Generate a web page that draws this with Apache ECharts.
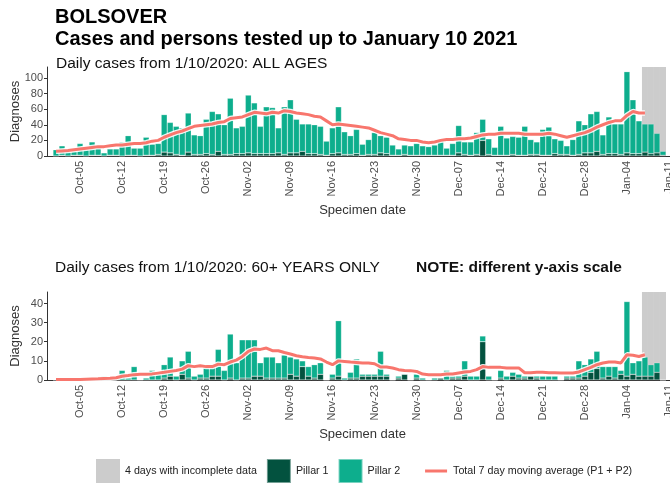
<!DOCTYPE html>
<html>
<head>
<meta charset="utf-8">
<script src="https://cdn.jsdelivr.net/npm/echarts@6/dist/echarts.min.js"></script>
<style>
  html, body { margin: 0; padding: 0; background: #ffffff; }
  #chart { width: 670px; height: 483px; }
</style>
</head>
<body>
<div id="chart"></div>
<script>
// categories: one per day, Sep-30 .. Jan-12 (data starts Oct-01 at index 1)
const MONTHS = ['Jan','Feb','Mar','Apr','May','Jun','Jul','Aug','Sep','Oct','Nov','Dec'];
const dates = [];
for (let i = 0; i < 105; i++) {
  const d = new Date(Date.UTC(2020, 8, 30 + i));
  dates.push(MONTHS[d.getUTCMonth()] + '-' + String(d.getUTCDate()).padStart(2, '0'));
}
const tickLabels = ['Oct-05', 'Oct-12', 'Oct-19', 'Oct-26', 'Nov-02', 'Nov-09', 'Nov-16',
  'Nov-23', 'Nov-30', 'Dec-07', 'Dec-14', 'Dec-21', 'Dec-28', 'Jan-04', 'Jan-11'];
const incompleteDays = ['Jan-07', 'Jan-08', 'Jan-09', 'Jan-10'];

// all ages, from Oct-01
const allPillar1 = [0,1,0,1,1,0,1,1,0,1, 1,0,1,1,0,1,1,2,5,4, 2,1,5,2,2,3,2,6,2,2,
  3,3,4,3,3,3,3,4,2,4, 4,6,3,3,2,1,3,4,2,2, 3,1,2,2,4,3,1,1,2,1, 1,1,1,1,1,1,1,4,2,1,
  2,20,2,1,1,1,2,1,1,2, 2,1,1,3,2,2,1,2,4,4, 6,2,3,3,2,4,3,3,5,3, 4,1];
const allPillar2 = [8,12,6,5,15,10,17,12,4,8, 8,18,25,9,10,23,14,14,48,39, 36,35,50,25,24,44,55,48,38,72,
  33,35,74,65,35,60,59,32,61,68, 43,35,38,37,36,18,33,59,29,24, 31,14,19,28,22,21,13,8,12,12,
  15,12,11,13,19,9,15,35,16,17, 28,27,20,10,37,22,23,23,37,19, 16,33,36,19,18,11,20,43,36,50,
  51,25,47,38,39,104,69,42,36,38, 25,5];
const allAvg = [6,6.5,7,8,9,10,11,12,12,13, 14,14,15,16,16,17,19,20,24,27, 30,32,35,38,39,40,41,43,44,48,
  49,50,53,56,55,54,56,55,58,57, 55,54,53,51,50,45,40,41,40,39, 38,37,36,33,30,28,26,22,21,20,
  20,18,17,18,20,21,21,22,22,23, 25,27,28,28,29,29,29,29,28,28, 28,28,29,28,26,24,26,28,30,33,
  37,40,43,45,45,52,57,55,55];

// 60+ years, from Oct-01
const oldPillar1 = [0,0,0,0,0,0,0,0,0,0, 0,0,0,0,0,0,0,0,1,2, 0,3,1,0,1,1,2,2,0,1,
  0,1,1,2,2,1,1,1,1,3, 2,7,2,1,3,0,1,2,0,1, 1,2,2,2,2,2,0,1,3,0, 1,0,0,0,1,0,1,1,2,0,
  0,20,0,0,1,0,2,1,1,2, 1,0,0,0,0,1,1,1,2,4, 6,1,2,1,3,2,3,2,2,2, 4,0];
const oldPillar2 = [0,0,0,0,0,0,0,0,2,1, 1,5,1,7,0,1,5,3,7,10, 2,7,14,2,2,7,6,14,5,23,
  9,20,20,19,7,11,11,8,12,9, 9,3,5,7,6,0,2,29,1,3, 10,1,1,1,13,1,0,1,0,0, 2,1,0,1,0,5,1,1,8,2,
  2,3,2,0,4,2,2,2,1,0, 1,2,2,2,0,1,1,9,6,7, 9,6,5,6,2,39,6,8,10,6, 5,0];
const oldAvg = [0.3,0.3,0.3,0.3,0.3,0.4,0.5,0.6,0.8,0.9, 1.2,2,2.3,2.8,3,3,3.2,3.6,4,4.5,
  5,5.7,7.5,7,7.5,7,7,8.3,8,9.4, 10.4,12.3,15,16.2,16,16.7,15.3,15.3,14.4,13.6,
  12.7,12.2,11.8,11.5,11,9.4,8,10,9.7,9.4, 9.2,8.9,8.9,8.5,6.8,6.8,6.3,5.4,5,4.9,
  4.5,3.1,2.8,2.8,2.8,3.1,3.1,3.7,4.2,4.5, 5.4,7,6.6,6.6,6.6,6.3,6.3,6.3,3.8,3.8,
  4,4,3.8,3.8,3.7,3.7,3.7,4.2,5.4,6.6, 8,8.9,9.4,9.4,8.9,13.2,12.9,12.3,13.2];

const allTicks = [0, 20, 40, 60, 80, 100];
const oldTicks = [0, 10, 20, 30, 40];
const allMax = 114, oldMax = 46;

const FONT = 'Liberation Sans, Arial, sans-serif';
const GREY = '#CCCCCC', P1 = '#03523F', P2 = '#0DAE8D', RED = '#F8766D';
const MA_NAME = 'Total 7 day moving average (P1 + P2)';

// data index 0 is Oct-01 = category index 1
const pairs = arr => arr.map((v, i) => [i + 1, v]);
const isTick = (idx, val) => tickLabels.indexOf(val) >= 0;

function xAxisFor(i) {
  return {
    type: 'category', gridIndex: i, data: dates, boundaryGap: true,
    axisLine: { lineStyle: { color: '#333', width: 1 } },
    axisTick: { interval: isTick, alignWithLabel: true, length: 3, lineStyle: { color: '#333' } },
    axisLabel: {
      interval: isTick, rotate: 90, margin: 5, fontSize: 11,
      color: '#4D4D4D', fontFamily: FONT
    },
    name: 'Specimen date', nameLocation: 'middle', nameGap: 48,
    nameTextStyle: { fontSize: 13, color: '#333', fontFamily: FONT }
  };
}

function yAxisFor(i, max, ticks) {
  return {
    type: 'value', gridIndex: i, min: 0, max: max,
    splitLine: { show: false },
    axisLine: { show: true, lineStyle: { color: '#333', width: 1 } },
    axisTick: { show: true, customValues: ticks, length: 3, lineStyle: { color: '#333' } },
    axisLabel: { customValues: ticks, margin: 4, fontSize: 11, color: '#4D4D4D', fontFamily: FONT },
    name: 'Diagnoses', nameLocation: 'middle', nameGap: 25, nameMoveOverlap: false,
    nameTextStyle: { fontSize: 13, color: '#333', fontFamily: FONT }
  };
}

function seriesFor(i, p1, p2, avg, yMax) {
  const ax = { xAxisIndex: i, yAxisIndex: i };
  const stack = 'cases' + i;
  return [
    Object.assign({
      name: '4 days with incomplete data', type: 'bar', stack: 'grey' + i, barWidth: 6,
      barGap: '-100%', silent: true,
      data: incompleteDays.map(d => [d, yMax]),
      itemStyle: { color: GREY }, z: 1
    }, ax),
    Object.assign({
      name: 'Pillar 1', type: 'bar', stack: stack, barWidth: 6, barGap: '-100%', data: pairs(p1),
      itemStyle: { color: P1, borderColor: 'rgba(255,255,255,0.45)', borderWidth: 0.5 }, z: 2
    }, ax),
    Object.assign({
      name: 'Pillar 2', type: 'bar', stack: stack, barWidth: 6, barGap: '-100%', data: pairs(p2),
      itemStyle: { color: P2, borderColor: 'rgba(255,255,255,0.45)', borderWidth: 0.5 }, z: 2
    }, ax),
    Object.assign({
      name: 'halo', type: 'line', data: pairs(avg), symbol: 'none', silent: true,
      lineStyle: { color: '#ffffff', width: 5.5, opacity: 0.9 }, z: 3
    }, ax),
    Object.assign({
      name: MA_NAME, type: 'line', data: pairs(avg), symbol: 'none',
      lineStyle: { color: RED, width: 3 }, itemStyle: { color: RED }, z: 4
    }, ax)
  ];
}

const chart = echarts.init(document.getElementById('chart'), null, { renderer: 'canvas' });

const option = {
  backgroundColor: '#ffffff',
  animation: false,
  textStyle: { fontFamily: FONT },
  title: [
    { text: 'BOLSOVER', left: 50, top: 2, textStyle: { fontSize: 20, fontWeight: 'bold', color: '#000', fontFamily: FONT } },
    { text: 'Cases and persons tested up to January 10 2021', left: 50, top: 24,
      textStyle: { fontSize: 20, fontWeight: 'bold', color: '#000', fontFamily: FONT } },
    { text: 'Daily cases from 1/10/2020: ALL AGES', left: 51, top: 51,
      textStyle: { fontSize: 15.5, fontWeight: 'normal', color: '#111', fontFamily: FONT } },
    { text: 'Daily cases from 1/10/2020: 60+ YEARS ONLY', left: 50, top: 255,
      textStyle: { fontSize: 15.5, fontWeight: 'normal', color: '#111', fontFamily: FONT } },
    { text: 'NOTE: different y-axis scale', left: 411, top: 255,
      textStyle: { fontSize: 15.5, fontWeight: 'bold', color: '#111', fontFamily: FONT } }
  ],
  legend: {
    left: 96, top: 458, itemWidth: 24, itemHeight: 24, itemGap: 9, padding: 0,
    textStyle: { fontSize: 10.7, color: '#222', fontFamily: FONT },
    selectedMode: false,
    formatter: name => (name === 'Pillar 2' ? name + '     ' : name),
    data: [
      { name: '4 days with incomplete data', icon: 'rect' },
      { name: 'Pillar 1', icon: 'rect' },
      { name: 'Pillar 2', icon: 'rect' },
      { name: MA_NAME, icon: 'path://M0,0 M24,24 M1,10.5 L23,10.5 L23,13.5 L1,13.5 Z' }
    ]
  },
  grid: [
    { left: 47, right: -8, top: 67, bottom: 327, outerBoundsMode: 'none', containLabel: false },
    { left: 47, right: -8, top: 292, bottom: 103, outerBoundsMode: 'none', containLabel: false }
  ],
  xAxis: [xAxisFor(0), xAxisFor(1)],
  yAxis: [yAxisFor(0, allMax, allTicks), yAxisFor(1, oldMax, oldTicks)],
  series: seriesFor(0, allPillar1, allPillar2, allAvg, allMax)
    .concat(seriesFor(1, oldPillar1, oldPillar2, oldAvg, oldMax))
};

chart.setOption(option);
</script>
</body>
</html>
